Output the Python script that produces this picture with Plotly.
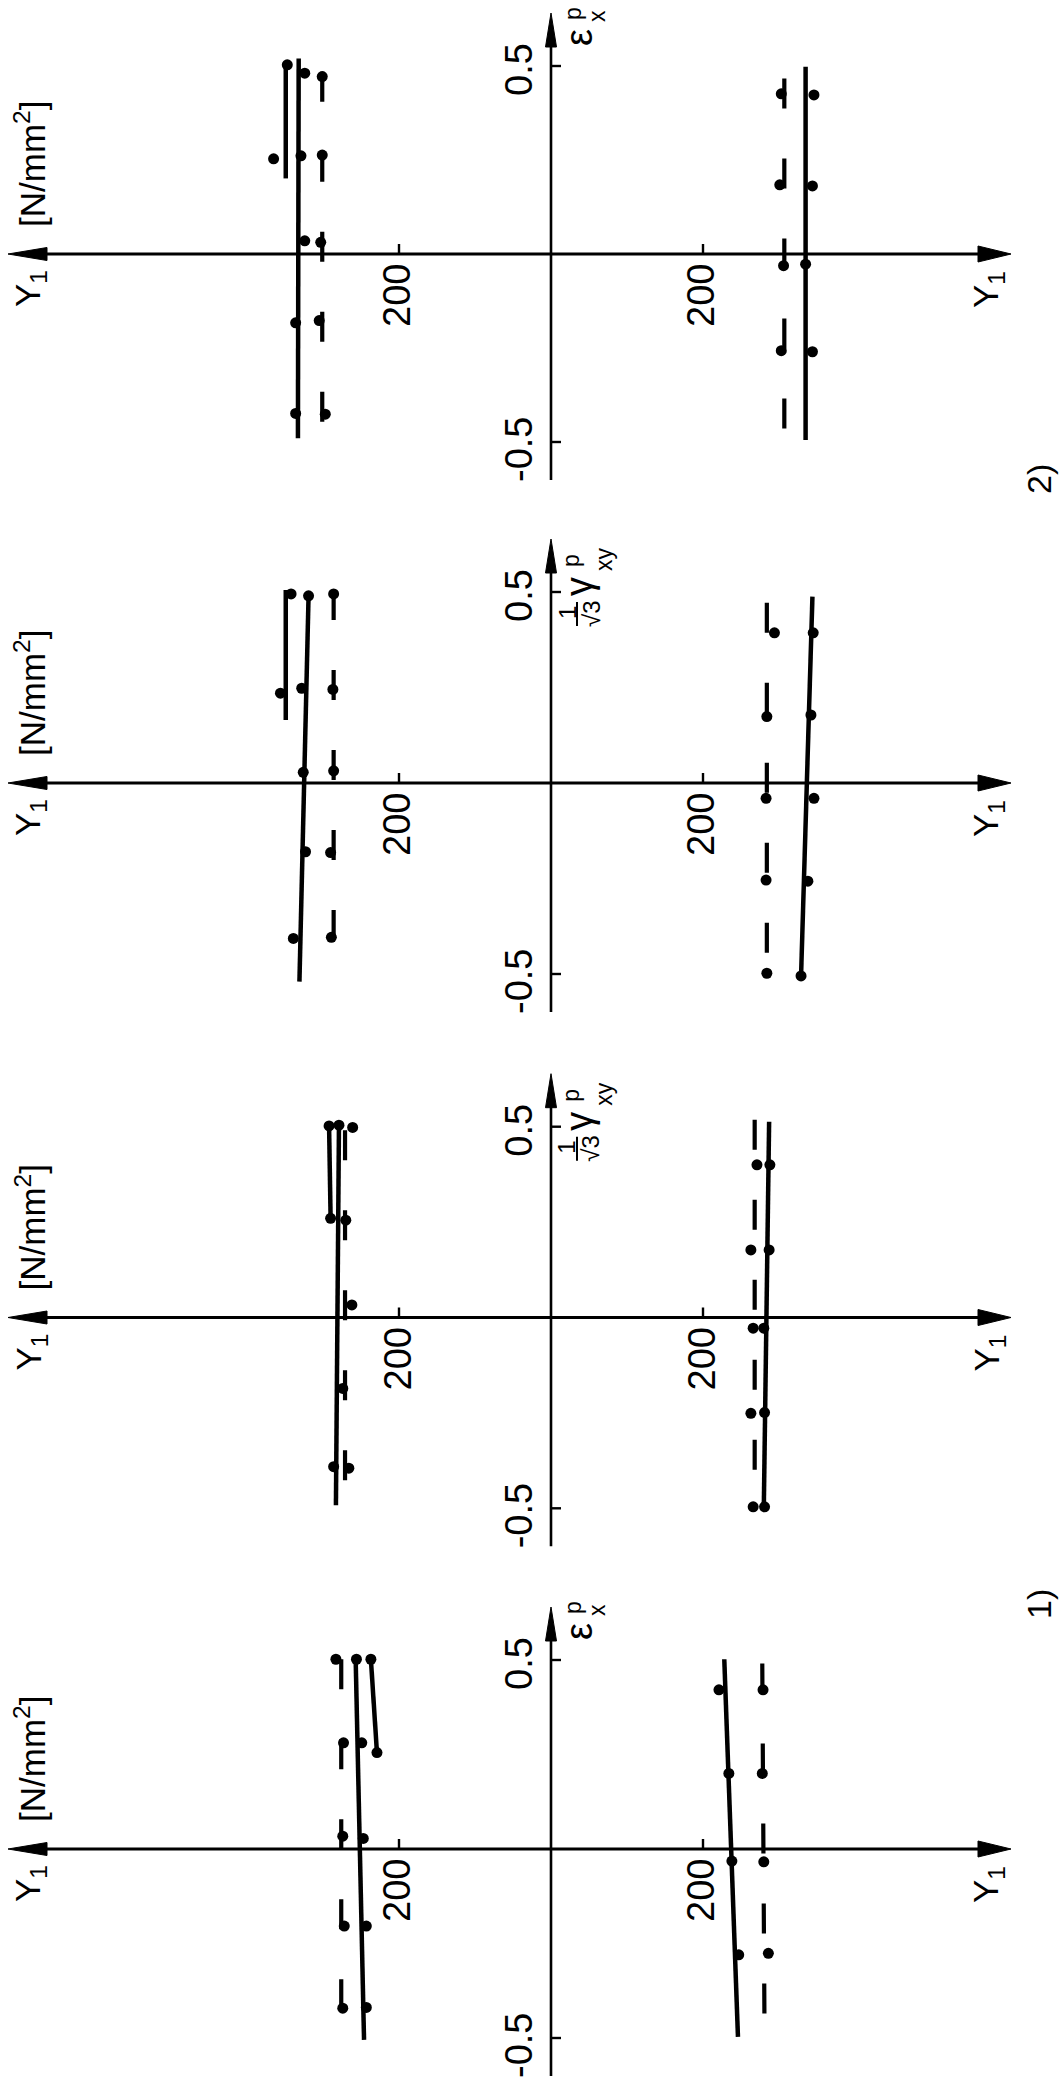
import plotly.graph_objects as go

# ---------------------------------------------------------------------------
# Measured yield stress Y1 [N/mm²] against plastic strain, four panels.
# "up" = half on the left of the strain axis, "lo" = half on the right.
# ---------------------------------------------------------------------------

# panel 1: strain eps_x^p, series 2)
p1_up_line_eps = [0.52, -0.49]
p1_up_line_y1 = [332, 333]
p1_up_pts_eps = [0.481, 0.261, 0.035, -0.183, -0.424]
p1_up_pts_y1 = [324, 329, 324, 336, 336]
p1_up_short_eps = [0.507, 0.201]
p1_up_short_y1 = [349, 349]
p1_up_spts_eps = [0.503, 0.253]
p1_up_spts_y1 = [347, 365]
p1_up_dash_eps = [0.485, -0.504]
p1_up_dash_y1 = [301, 301]
p1_up_dpts_eps = [0.472, 0.263, 0.031, -0.177, -0.426]
p1_up_dpts_y1 = [301, 301, 303, 305, 297]
p1_lo_line_eps = [0.498, -0.495]
p1_lo_line_y1 = [335, 335]
p1_lo_pts_eps = [0.423, 0.181, -0.027, -0.260]
p1_lo_pts_y1 = [346, 344, 335, 344]
p1_lo_dash_eps = [0.467, -0.499]
p1_lo_dash_y1 = [307, 307]
p1_lo_dpts_eps = [0.426, 0.184, -0.031, -0.257]
p1_lo_dpts_y1 = [303, 301, 306, 303]

# panel 2: strain gamma_xy^p / sqrt(3), series 2)
p2_up_line_eps = [0.490, -0.520]
p2_up_line_y1 = [319, 331]
p2_up_pts_eps = [0.490, 0.248, 0.028, -0.180, -0.407]
p2_up_pts_y1 = [319, 328, 326, 323, 339]
p2_up_short_eps = [0.505, 0.165]
p2_up_short_y1 = [349, 349]
p2_up_spts_eps = [0.495, 0.235]
p2_up_spts_y1 = [342, 356]
p2_up_dash_eps = [0.505, -0.503]
p2_up_dash_y1 = [286, 286]
p2_up_dpts_eps = [0.495, 0.245, 0.032, -0.182, -0.404]
p2_up_dpts_y1 = [286, 287, 286, 290, 289]
p2_lo_line_eps = [0.488, -0.507]
p2_lo_line_y1 = [344, 329]
p2_lo_pts_eps = [0.393, 0.178, -0.040, -0.257, -0.505]
p2_lo_pts_y1 = [345, 342, 346, 338, 329]
p2_lo_dash_eps = [0.472, -0.498]
p2_lo_dash_y1 = [284, 284]
p2_lo_dpts_eps = [0.393, 0.174, -0.040, -0.254, -0.498]
p2_lo_dpts_y1 = [294, 284, 283, 283, 284]

# panel 3: strain gamma_xy^p / sqrt(3), series 1)
p3_up_line_eps = [0.504, -0.492]
p3_up_line_y1 = [279, 283]
p3_up_pts_eps = [0.504, -0.186, -0.391]
p3_up_pts_y1 = [279, 274, 286]
p3_up_short_eps = [0.502, 0.260]
p3_up_short_y1 = [292, 290]
p3_up_spts_eps = [0.502, 0.260]
p3_up_spts_y1 = [292, 290]
p3_up_dash_eps = [0.491, -0.492]
p3_up_dash_y1 = [271, 271]
p3_up_dpts_eps = [0.498, 0.255, 0.033, -0.395]
p3_up_dpts_y1 = [261, 270, 262, 266]
p3_lo_line_eps = [0.513, -0.500]
p3_lo_line_y1 = [287, 280]
p3_lo_pts_eps = [0.400, 0.177, -0.028, -0.249, -0.496]
p3_lo_pts_y1 = [288, 287, 280, 281, 281]
p3_lo_dash_eps = [0.518, -0.500]
p3_lo_dash_y1 = [268, 268]
p3_lo_dpts_eps = [0.400, 0.177, -0.028, -0.251, -0.496]
p3_lo_dpts_y1 = [271, 263, 266, 263, 266]

# panel 4: strain eps_x^p, series 1)
p4_up_line_eps = [0.500, -0.505]
p4_up_line_y1 = [257, 246]
p4_up_pts_eps = [0.502, 0.281, 0.028, -0.204, -0.419]
p4_up_pts_y1 = [256, 249, 247, 243, 243]
p4_up_short_eps = [0.502, 0.255]
p4_up_short_y1 = [237, 229]
p4_up_spts_eps = [0.502, 0.255]
p4_up_spts_y1 = [237, 229]
p4_up_dash_eps = [0.502, -0.505]
p4_up_dash_y1 = [276, 276]
p4_up_dpts_eps = [0.502, 0.281, 0.034, -0.204, -0.421]
p4_up_dpts_y1 = [283, 273, 274, 272, 274]
p4_lo_line_eps = [0.502, -0.497]
p4_lo_line_y1 = [228, 246]
p4_lo_pts_eps = [0.421, 0.200, -0.032, -0.280]
p4_lo_pts_y1 = [221, 234, 238, 247]
p4_lo_dash_eps = [0.491, -0.497]
p4_lo_dash_y1 = [278, 281]
p4_lo_dpts_eps = [0.421, 0.200, -0.034, -0.276]
p4_lo_dpts_y1 = [279, 278, 280, 286]

# axis annotation values
y1_tick = 200
eps_ticks = [0.5, -0.5]
eps_tick_labels = ["0.5", "-0.5"]
strain_kind = ["eps", "gamma", "gamma", "eps"]
case_labels = {0: "2)", 3: "1)"}

# ---------------------------------------------------------------------------
# page geometry
# ---------------------------------------------------------------------------
W, H = 1062, 2082
CX = 551                              # column of the strain axes
PX_PER_200 = 152                      # horizontal scale (pixels per 200 N/mm²)
CY = [254, 783, 1317.5, 1849]         # rows of the Y1 axes
PX_PER_HALF = [188, 191, 190.8, 189]  # vertical scale (pixels per 0.5 strain)

FONT = "Liberation Sans, Arial, sans-serif"
INK = "black"


def px(x):
    return x / W


def py(y):
    return 1 - y / H


panels = [
    dict(up=dict(line=(p1_up_line_eps, p1_up_line_y1), pts=(p1_up_pts_eps, p1_up_pts_y1),
                 short=(p1_up_short_eps, p1_up_short_y1), spts=(p1_up_spts_eps, p1_up_spts_y1),
                 dash=(p1_up_dash_eps, p1_up_dash_y1), dpts=(p1_up_dpts_eps, p1_up_dpts_y1)),
         lo=dict(line=(p1_lo_line_eps, p1_lo_line_y1), pts=(p1_lo_pts_eps, p1_lo_pts_y1),
                 dash=(p1_lo_dash_eps, p1_lo_dash_y1), dpts=(p1_lo_dpts_eps, p1_lo_dpts_y1))),
    dict(up=dict(line=(p2_up_line_eps, p2_up_line_y1), pts=(p2_up_pts_eps, p2_up_pts_y1),
                 short=(p2_up_short_eps, p2_up_short_y1), spts=(p2_up_spts_eps, p2_up_spts_y1),
                 dash=(p2_up_dash_eps, p2_up_dash_y1), dpts=(p2_up_dpts_eps, p2_up_dpts_y1)),
         lo=dict(line=(p2_lo_line_eps, p2_lo_line_y1), pts=(p2_lo_pts_eps, p2_lo_pts_y1),
                 dash=(p2_lo_dash_eps, p2_lo_dash_y1), dpts=(p2_lo_dpts_eps, p2_lo_dpts_y1))),
    dict(up=dict(line=(p3_up_line_eps, p3_up_line_y1), pts=(p3_up_pts_eps, p3_up_pts_y1),
                 short=(p3_up_short_eps, p3_up_short_y1), spts=(p3_up_spts_eps, p3_up_spts_y1),
                 dash=(p3_up_dash_eps, p3_up_dash_y1), dpts=(p3_up_dpts_eps, p3_up_dpts_y1)),
         lo=dict(line=(p3_lo_line_eps, p3_lo_line_y1), pts=(p3_lo_pts_eps, p3_lo_pts_y1),
                 dash=(p3_lo_dash_eps, p3_lo_dash_y1), dpts=(p3_lo_dpts_eps, p3_lo_dpts_y1))),
    dict(up=dict(line=(p4_up_line_eps, p4_up_line_y1), pts=(p4_up_pts_eps, p4_up_pts_y1),
                 short=(p4_up_short_eps, p4_up_short_y1), spts=(p4_up_spts_eps, p4_up_spts_y1),
                 dash=(p4_up_dash_eps, p4_up_dash_y1), dpts=(p4_up_dpts_eps, p4_up_dpts_y1)),
         lo=dict(line=(p4_lo_line_eps, p4_lo_line_y1), pts=(p4_lo_pts_eps, p4_lo_pts_y1),
                 dash=(p4_lo_dash_eps, p4_lo_dash_y1), dpts=(p4_lo_dpts_eps, p4_lo_dpts_y1))),
]

fig = go.Figure()
shapes = []
annotations = []


def text(x, y, s, size, xref="paper", yref="paper", xshift=0, yshift=0):
    annotations.append(dict(
        x=x, y=y, xref=xref, yref=yref, text=s, showarrow=False,
        textangle=-90, xanchor="center", yanchor="middle",
        xshift=xshift, yshift=yshift,
        font=dict(family=FONT, size=size, color=INK)))


for i, panel in enumerate(panels):
    yref = "y" if i == 0 else f"y{i + 1}"
    cy, s = CY[i], PX_PER_HALF[i]

    # ---- data -------------------------------------------------------------
    for half, xref in (("up", "x"), ("lo", "x2")):
        d = panel[half]
        for key in ("line", "short"):
            if key in d:
                e, v = d[key]
                fig.add_trace(go.Scatter(x=v, y=e, xaxis=xref, yaxis=yref, mode="lines",
                                         line=dict(color=INK, width=4.5), hoverinfo="skip"))
        e, v = d["dash"]
        fig.add_trace(go.Scatter(x=v, y=e, xaxis=xref, yaxis=yref, mode="lines",
                                 line=dict(color=INK, width=4.2, dash="30px,50px"),
                                 hoverinfo="skip"))
        for key in ("pts", "spts", "dpts"):
            if key in d:
                e, v = d[key]
                fig.add_trace(go.Scatter(x=v, y=e, xaxis=xref, yaxis=yref, mode="markers",
                                         marker=dict(color=INK, size=11, line=dict(width=0)),
                                         hoverinfo="skip"))

    # ---- Y1 axis with arrows at both ends ---------------------------------
    shapes.append(dict(type="line", xref="paper", yref=yref, x0=px(40), x1=px(985),
                       y0=0, y1=0, line=dict(color=INK, width=3)))
    shapes.append(dict(type="path", xref="paper", yref="paper",
                       path=f"M {px(8)},{py(cy)} L {px(47)},{py(cy - 6.5)} "
                            f"L {px(47)},{py(cy + 6.5)} Z",
                       fillcolor=INK, line=dict(color=INK, width=1)))
    shapes.append(dict(type="path", xref="paper", yref="paper",
                       path=f"M {px(1011)},{py(cy)} L {px(978)},{py(cy - 8)} "
                            f"L {px(978)},{py(cy + 8)} Z",
                       fillcolor=INK, line=dict(color=INK, width=1)))

    # ---- strain axis with arrow on top -------------------------------------
    top = cy - s - 53
    shapes.append(dict(type="line", xref="paper", yref="paper", x0=px(CX), x1=px(CX),
                       y0=py(cy + s + 38), y1=py(top + 20), line=dict(color=INK, width=2.6)))
    shapes.append(dict(type="path", xref="paper", yref="paper",
                       path=f"M {px(CX)},{py(top)} L {px(CX - 5.5)},{py(top + 34)} "
                            f"L {px(CX + 5.5)},{py(top + 34)} Z",
                       fillcolor=INK, line=dict(color=INK, width=1)))

    # ---- ticks ------------------------------------------------------------
    for xr in ("x", "x2"):
        shapes.append(dict(type="line", xref=xr, yref=yref, x0=y1_tick, x1=y1_tick,
                           ysizemode="pixel", yanchor=0, y0=0, y1=10,
                           line=dict(color=INK, width=2.4)))
        text(y1_tick, 0, str(y1_tick), 38, xref=xr, yref=yref, xshift=-2, yshift=-42)
    for t, lab in zip(eps_ticks, eps_tick_labels):
        shapes.append(dict(type="line", xref="paper", yref=yref, x0=px(CX), x1=px(CX + 10),
                           y0=t, y1=t, line=dict(color=INK, width=2.4)))
        text(px(CX - 32), t, lab, 38, yref=yref, yshift=-4 if t > 0 else -8)

    # ---- axis titles --------------------------------------------------------
    text(px(30), 0, "Y<sub>1</sub>", 35, yref=yref, yshift=-35)
    text(px(30), 0, "[N/mm<sup>2</sup>]", 35, yref=yref, yshift=90)
    text(px(988), 0, "Y<sub>1</sub>", 35, yref=yref, yshift=-36)

    tick = cy - s
    if strain_kind[i] == "eps":
        text(px(CX + 28), py(tick - 28), "ε", 38)
        text(px(CX + 22), py(tick - 52), "p", 23)
        text(px(CX + 46), py(tick - 50), "x", 23)
    else:
        text(px(CX + 28), py(tick - 5), "γ", 38)
        text(px(CX + 20), py(tick - 31), "p", 23)
        text(px(CX + 53), py(tick - 33), "xy", 23)
        text(px(CX + 16), py(tick + 21), "1", 24)
        text(px(CX + 40), py(tick + 22), "√3", 24)
        shapes.append(dict(type="line", xref="paper", yref="paper",
                           x0=px(CX + 26), x1=px(CX + 26), y0=py(tick + 10), y1=py(tick + 34),
                           line=dict(color=INK, width=2)))

    if i in case_labels:
        text(px(1039), py(cy + s + 37 if i == 0 else cy - s - 56), case_labels[i], 34)

layout = dict(
    width=W, height=H, autosize=False,
    margin=dict(l=0, r=0, t=0, b=0, pad=0),
    paper_bgcolor="white", plot_bgcolor="rgba(0,0,0,0)",
    showlegend=False,
    shapes=shapes, annotations=annotations,
    xaxis=dict(domain=[0, CX / W], range=[CX * 200 / PX_PER_200, 0],
               visible=False, anchor="y", fixedrange=True),
    xaxis2=dict(domain=[CX / W, 1], range=[0, (W - CX) * 200 / PX_PER_200],
                visible=False, anchor="y", fixedrange=True),
)
for i in range(4):
    key = "yaxis" if i == 0 else f"yaxis{i + 1}"
    layout[key] = dict(domain=[0, 1],
                       range=[(CY[i] - H) / PX_PER_HALF[i] * 0.5, CY[i] / PX_PER_HALF[i] * 0.5],
                       visible=False, anchor="x", fixedrange=True)

fig.update_layout(**layout)
fig.write_html("out.html", config={"displayModeBar": False})
